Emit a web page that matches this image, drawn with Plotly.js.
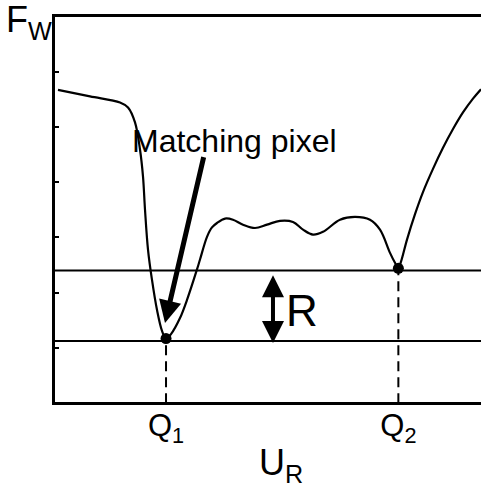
<!DOCTYPE html>
<html>
<head>
<meta charset="utf-8">
<script src="https://cdn.plot.ly/plotly-3.0.1.min.js"></script>
<style>html,body{margin:0;padding:0;background:#fff;}#chart{width:481px;height:490px;}</style>
</head>
<body>
<div id="chart"></div>
<script>
// Curve: matching cost F_W along the search range U_R
var curveU = [0.7, 8.22, 15.26, 17.14, 18.78, 19.95, 20.66, 21.13, 21.83, 22.77, 23.94, 25.12, 26.06, 27.23, 29.34, 30.99, 33.33, 34.04, 35.68, 36.85, 38.03, 39.91, 41.78, 44.13, 46.95, 49.77, 52.82, 55.87, 58.22, 60.56, 62.91, 66.9, 70.42, 73.94, 76.29, 78.64, 79.81, 80.6, 81.22, 82.63, 84.51, 86.38, 88.73, 91.08, 93.43, 95.77, 98.12, 100];
var curveF = [5.67, 5.55, 5.44, 5.35, 5.08, 4.59, 4.10, 3.50, 2.78, 2.23, 1.69, 1.31, 1.17, 1.25, 1.54, 1.87, 2.42, 2.6, 3.01, 3.18, 3.26, 3.34, 3.32, 3.23, 3.17, 3.23, 3.3, 3.28, 3.14, 3.05, 3.1, 3.32, 3.37, 3.32, 3.14, 2.72, 2.54, 2.44, 2.56, 2.96, 3.42, 3.82, 4.24, 4.62, 4.96, 5.26, 5.51, 5.68];

// Minima Q1 (matching pixel) and Q2
var minU = [26.06, 80.6];
var minF = [1.17, 2.44];
var minLabels = ['Q<sub>1</sub>', 'Q<sub>2</sub>'];

// Threshold levels (distance R between them)
var levelLow = 1.127;
var levelHigh = 2.40;
var levelSpan = [0, 100];

var yTicks = [1, 2, 3, 4, 5, 6];

// Annotation anchors
var arrowTip = [25.82, 1.45];
var arrowTail = [34.98, 4.48];
var rArrowU = 51.17;
var rArrowTop = 2.34;
var rArrowBottom = 1.09;
var rLabelPos = [57.98, 1.67];
var matchLabelPos = [42.25, 4.75];

var font = 'Arial, "Liberation Sans", sans-serif';

var traces = [
  {x: levelSpan, y: [levelHigh, levelHigh], mode: 'lines', line: {color: '#000', width: 2}, hoverinfo: 'skip'},
  {x: levelSpan, y: [levelLow, levelLow], mode: 'lines', line: {color: '#000', width: 2}, hoverinfo: 'skip'},
  {x: [minU[0], minU[0]], y: [0, minF[0]], mode: 'lines', line: {color: '#000', width: 2, dash: '10px,6px'}, hoverinfo: 'skip'},
  {x: [minU[1], minU[1]], y: [0, minF[1]], mode: 'lines', line: {color: '#000', width: 2, dash: '10px,6px'}, hoverinfo: 'skip'},
  {x: curveU, y: curveF, mode: 'lines', line: {color: '#000', width: 2.2, shape: 'spline', smoothing: 1}, hoverinfo: 'skip'},
  {x: minU, y: minF, mode: 'markers', marker: {color: '#000', size: 11}, hoverinfo: 'skip'}
];

var layout = {
  width: 481, height: 490,
  margin: {l: 55, r: 0, t: 17, b: 88},
  paper_bgcolor: '#fff', plot_bgcolor: '#fff',
  showlegend: false,
  font: {family: font, color: '#000'},
  xaxis: {
    range: [0, 100], showgrid: false, zeroline: false,
    showline: true, linecolor: '#000', linewidth: 3, mirror: true,
    ticks: '', tickvals: minU, ticktext: minLabels, ticklabelstandoff: -6,
    tickfont: {family: font, size: 31, color: '#000'}
  },
  yaxis: {
    range: [0.022, 6.987], showgrid: false, zeroline: false,
    showline: true, linecolor: '#000', linewidth: 3,
    ticks: 'inside', ticklen: 4, tickwidth: 2, tickcolor: '#000',
    tickvals: yTicks, showticklabels: false
  },
  annotations: [
    {xref: 'paper', yref: 'paper', x: -0.061, y: 0.988, text: 'F<sub>W</sub>', showarrow: false,
     font: {family: font, size: 36, color: '#000'}, xanchor: 'center', yanchor: 'middle'},
    {xref: 'paper', yref: 'paper', x: 0.53, y: -0.164, text: 'U<sub>R</sub>', showarrow: false,
     font: {family: font, size: 36, color: '#000'}, xanchor: 'center', yanchor: 'middle'},
    {xref: 'x', yref: 'y', x: matchLabelPos[0], y: matchLabelPos[1], text: 'Matching pixel', showarrow: false,
     font: {family: font, size: 32, color: '#000'}, xanchor: 'center', yanchor: 'middle'},
    {xref: 'x', yref: 'y', x: arrowTip[0], y: arrowTip[1], axref: 'x', ayref: 'y', ax: arrowTail[0], ay: arrowTail[1],
     text: '', showarrow: true, arrowhead: 2, arrowsize: 0.9, arrowwidth: 5, arrowcolor: '#000', standoff: 0},
    {xref: 'x', yref: 'y', x: rArrowU, y: rArrowBottom, axref: 'x', ayref: 'y', ax: rArrowU, ay: rArrowTop,
     text: '', showarrow: true, arrowhead: 2, startarrowhead: 2, arrowside: 'end+start', arrowsize: 1.1, startarrowsize: 1.1,
     arrowwidth: 4, arrowcolor: '#000', standoff: 0, startstandoff: 0},
    {xref: 'x', yref: 'y', x: rLabelPos[0], y: rLabelPos[1], text: 'R', showarrow: false,
     font: {family: font, size: 44, color: '#000'}, xanchor: 'center', yanchor: 'middle'}
  ]
};

Plotly.newPlot('chart', traces, layout, {displayModeBar: false, staticPlot: true});
</script>
</body>
</html>
